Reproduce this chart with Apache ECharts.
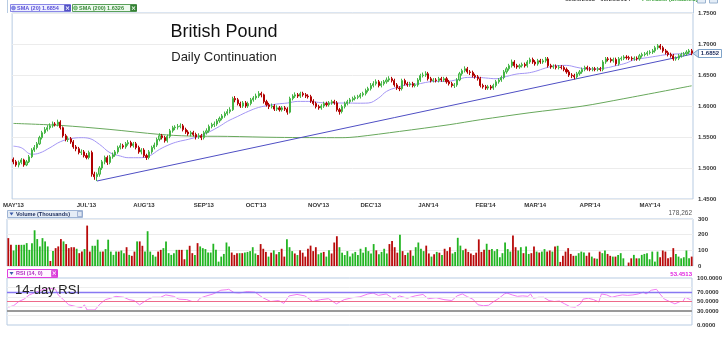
<!DOCTYPE html>
<html><head><meta charset="utf-8">
<script src="https://cdn.jsdelivr.net/npm/echarts/dist/echarts.min.js"></script>
<style>html,body{margin:0;padding:0;background:#fff}#c{width:725px;height:341px}</style>
</head><body><div id="c"></div>
<script>
// ---------- DATA ----------
const monthTickIdx = [0,28,50,73,93,117,137,159,181,200,221,244];
const monthLabels = ["MAY'13","JUL'13","AUG'13","SEP'13","OCT'13","NOV'13","DEC'13","JAN'14","FEB'14","MAR'14","APR'14","MAY'14"];

const opens = [
1.514,1.510,1.505,1.509,1.513,1.505,1.510,1.518,1.529,1.533,
1.539,1.549,1.557,1.562,1.565,1.568,1.571,1.570,1.574,1.565,
1.552,1.546,1.547,1.542,1.534,1.531,1.525,1.526,1.520,1.517,
1.525,1.490,1.486,1.490,1.500,1.510,1.517,1.509,1.518,1.521,
1.526,1.533,1.536,1.534,1.539,1.541,1.536,1.539,1.533,1.526,
1.529,1.520,1.517,1.526,1.533,1.537,1.546,1.552,1.549,1.544,
1.551,1.560,1.565,1.566,1.567,1.568,1.562,1.558,1.555,1.557,
1.554,1.550,1.552,1.549,1.557,1.560,1.567,1.570,1.571,1.576,
1.580,1.584,1.588,1.591,1.594,1.612,1.610,1.604,1.600,1.605,
1.600,1.604,1.610,1.613,1.616,1.620,1.618,1.607,1.602,1.599,
1.600,1.595,1.597,1.594,1.597,1.595,1.590,1.612,1.616,1.618,
1.616,1.620,1.618,1.616,1.615,1.608,1.604,1.599,1.597,1.600,
1.604,1.602,1.605,1.607,1.605,1.594,1.591,1.599,1.604,1.607,
1.610,1.612,1.614,1.615,1.618,1.620,1.625,1.628,1.633,1.636,
1.639,1.633,1.636,1.639,1.642,1.644,1.641,1.634,1.629,1.628,
1.641,1.636,1.634,1.636,1.633,1.634,1.642,1.649,1.650,1.652,
1.644,1.641,1.642,1.641,1.644,1.642,1.644,1.639,1.636,1.633,
1.634,1.642,1.652,1.657,1.660,1.655,1.654,1.649,1.647,1.644,
1.633,1.631,1.629,1.631,1.629,1.633,1.639,1.642,1.646,1.655,
1.660,1.665,1.671,1.665,1.663,1.665,1.667,1.665,1.671,1.675,
1.671,1.668,1.673,1.671,1.673,1.676,1.665,1.663,1.664,1.662,
1.663,1.662,1.659,1.655,1.650,1.649,1.647,1.652,1.655,1.659,
1.662,1.660,1.659,1.660,1.659,1.660,1.659,1.671,1.676,1.675,
1.673,1.675,1.668,1.676,1.677,1.679,1.678,1.677,1.676,1.677,
1.676,1.681,1.683,1.684,1.686,1.687,1.689,1.694,1.697,1.694,
1.689,1.686,1.683,1.681,1.676,1.677,1.681,1.683,1.684,1.687,1.689];

const closes = [
1.510,1.505,1.509,1.513,1.505,1.510,1.518,1.529,1.533,1.539,
1.549,1.557,1.562,1.565,1.568,1.571,1.570,1.574,1.565,1.552,
1.546,1.547,1.542,1.534,1.531,1.525,1.526,1.520,1.517,1.525,
1.490,1.486,1.490,1.500,1.510,1.517,1.509,1.518,1.521,1.526,
1.533,1.536,1.534,1.539,1.541,1.536,1.539,1.533,1.526,1.529,
1.520,1.517,1.526,1.533,1.537,1.546,1.552,1.549,1.544,1.551,
1.560,1.565,1.566,1.567,1.568,1.562,1.558,1.555,1.557,1.554,
1.550,1.552,1.549,1.557,1.560,1.567,1.570,1.571,1.576,1.580,
1.584,1.588,1.591,1.594,1.612,1.610,1.604,1.600,1.605,1.600,
1.604,1.610,1.613,1.616,1.620,1.618,1.607,1.602,1.599,1.600,
1.595,1.597,1.594,1.597,1.595,1.590,1.612,1.616,1.618,1.616,
1.620,1.618,1.616,1.615,1.608,1.604,1.599,1.597,1.600,1.604,
1.602,1.605,1.607,1.605,1.594,1.591,1.599,1.604,1.607,1.610,
1.612,1.614,1.615,1.618,1.620,1.625,1.628,1.633,1.636,1.639,
1.633,1.636,1.639,1.642,1.644,1.641,1.634,1.629,1.628,1.641,
1.636,1.634,1.636,1.633,1.634,1.642,1.649,1.650,1.652,1.644,
1.641,1.642,1.641,1.644,1.642,1.644,1.639,1.636,1.633,1.634,
1.642,1.652,1.657,1.660,1.655,1.654,1.649,1.647,1.644,1.633,
1.631,1.629,1.631,1.629,1.633,1.639,1.642,1.646,1.655,1.660,
1.665,1.671,1.665,1.663,1.665,1.667,1.665,1.671,1.675,1.671,
1.668,1.673,1.671,1.673,1.676,1.665,1.663,1.664,1.662,1.663,
1.662,1.659,1.655,1.650,1.649,1.647,1.652,1.655,1.659,1.662,
1.660,1.659,1.660,1.659,1.660,1.659,1.671,1.676,1.675,1.673,
1.675,1.668,1.676,1.677,1.679,1.678,1.677,1.676,1.677,1.676,
1.681,1.683,1.684,1.686,1.687,1.689,1.694,1.697,1.694,1.689,
1.686,1.683,1.681,1.676,1.677,1.681,1.683,1.684,1.687,1.689,1.6852];

const highs = [
1.517,1.513,1.512,1.516,1.515,1.513,1.521,1.532,1.537,1.542,
1.552,1.560,1.566,1.569,1.572,1.575,1.574,1.578,1.577,1.567,
1.555,1.551,1.550,1.545,1.537,1.534,1.530,1.529,1.524,1.528,
1.528,1.494,1.493,1.503,1.513,1.520,1.520,1.521,1.525,1.529,
1.536,1.540,1.539,1.542,1.545,1.544,1.542,1.542,1.536,1.532,
1.532,1.523,1.529,1.536,1.541,1.549,1.556,1.555,1.552,1.554,
1.563,1.568,1.569,1.571,1.572,1.571,1.565,1.561,1.560,1.560,
1.557,1.556,1.555,1.560,1.564,1.570,1.573,1.575,1.579,1.583,
1.587,1.591,1.595,1.598,1.615,1.616,1.613,1.607,1.608,1.608,
1.607,1.613,1.616,1.620,1.624,1.623,1.620,1.610,1.605,1.604,
1.603,1.601,1.600,1.600,1.600,1.598,1.615,1.619,1.622,1.621,
1.623,1.623,1.621,1.619,1.618,1.611,1.607,1.602,1.603,1.607,
1.607,1.608,1.610,1.610,1.608,1.597,1.602,1.607,1.610,1.613,
1.615,1.617,1.618,1.621,1.623,1.628,1.631,1.637,1.640,1.643,
1.642,1.640,1.642,1.646,1.648,1.647,1.644,1.637,1.632,1.644,
1.644,1.639,1.639,1.639,1.637,1.645,1.652,1.654,1.656,1.655,
1.647,1.645,1.645,1.647,1.647,1.647,1.647,1.642,1.639,1.637,
1.645,1.655,1.660,1.664,1.663,1.658,1.657,1.652,1.650,1.647,
1.636,1.634,1.634,1.634,1.636,1.642,1.645,1.649,1.658,1.663,
1.668,1.675,1.674,1.668,1.668,1.670,1.670,1.674,1.678,1.678,
1.674,1.676,1.676,1.676,1.679,1.679,1.668,1.667,1.667,1.666,
1.666,1.665,1.662,1.658,1.653,1.652,1.655,1.658,1.662,1.665,
1.665,1.663,1.663,1.663,1.663,1.663,1.674,1.679,1.679,1.678,
1.678,1.678,1.679,1.680,1.682,1.682,1.681,1.680,1.680,1.680,
1.684,1.686,1.687,1.689,1.690,1.692,1.697,1.700,1.700,1.697,
1.692,1.689,1.686,1.684,1.680,1.684,1.686,1.687,1.690,1.692,1.692];

const lows = [
1.506,1.502,1.501,1.506,1.502,1.503,1.508,1.516,1.526,1.530,
1.537,1.546,1.555,1.559,1.562,1.565,1.567,1.567,1.562,1.549,
1.543,1.542,1.539,1.531,1.527,1.522,1.521,1.517,1.514,1.514,
1.486,1.481,1.479,1.486,1.497,1.506,1.505,1.506,1.515,1.518,
1.523,1.530,1.531,1.531,1.536,1.533,1.533,1.530,1.523,1.522,
1.517,1.513,1.514,1.523,1.530,1.534,1.543,1.546,1.541,1.541,
1.548,1.557,1.561,1.562,1.564,1.559,1.555,1.552,1.551,1.551,
1.546,1.547,1.545,1.546,1.554,1.557,1.564,1.566,1.568,1.573,
1.577,1.581,1.585,1.588,1.592,1.606,1.601,1.597,1.597,1.597,
1.597,1.601,1.607,1.610,1.613,1.614,1.604,1.599,1.595,1.596,
1.592,1.592,1.591,1.591,1.592,1.586,1.588,1.609,1.613,1.613,
1.613,1.615,1.613,1.612,1.605,1.601,1.596,1.594,1.594,1.597,
1.599,1.599,1.602,1.602,1.591,1.586,1.588,1.596,1.601,1.604,
1.607,1.609,1.611,1.612,1.615,1.617,1.622,1.625,1.630,1.633,
1.630,1.630,1.633,1.636,1.639,1.638,1.631,1.626,1.624,1.625,
1.633,1.631,1.631,1.630,1.630,1.631,1.639,1.646,1.647,1.641,
1.638,1.638,1.638,1.638,1.639,1.639,1.636,1.633,1.630,1.629,
1.631,1.640,1.649,1.654,1.652,1.650,1.646,1.644,1.641,1.630,
1.628,1.626,1.626,1.626,1.626,1.630,1.636,1.639,1.643,1.652,
1.657,1.662,1.662,1.660,1.660,1.662,1.662,1.662,1.668,1.668,
1.665,1.665,1.668,1.668,1.670,1.662,1.660,1.660,1.659,1.659,
1.659,1.656,1.652,1.647,1.645,1.643,1.644,1.649,1.652,1.656,
1.657,1.656,1.656,1.656,1.656,1.656,1.656,1.668,1.672,1.670,
1.670,1.665,1.665,1.673,1.674,1.675,1.674,1.673,1.673,1.673,
1.673,1.678,1.680,1.681,1.683,1.684,1.686,1.691,1.691,1.686,
1.683,1.680,1.678,1.673,1.673,1.674,1.678,1.680,1.681,1.684,1.682];

const volumes = [
178,135,99,135,135,135,135,146,103,146,
228,172,125,178,157,125,32,95,114,125,
172,157,140,114,120,120,110,82,92,108,
258,92,129,129,168,92,92,108,168,92,
71,92,92,99,82,120,71,65,92,157,
157,129,92,222,92,71,60,92,103,114,
157,82,71,82,103,103,103,43,103,129,
82,71,146,125,114,108,86,86,142,103,
28,60,77,150,125,86,71,82,82,82,
86,90,95,120,80,70,140,110,90,60,
85,100,75,90,110,60,170,120,95,80,
70,100,85,60,110,130,95,120,75,85,
90,60,100,80,150,190,120,85,70,95,
60,80,90,70,110,85,120,95,80,140,
100,75,90,110,80,140,160,120,85,200,
95,70,85,100,65,120,150,110,95,130,
80,60,75,90,85,70,110,95,120,80,
90,180,130,100,110,90,80,70,85,170,
90,103,142,103,108,95,108,56,82,150,
108,92,194,120,99,120,82,125,77,82,
125,92,86,92,108,92,99,92,125,129,
26,65,92,114,77,65,65,82,92,86,
65,86,60,49,47,92,82,99,77,65,
60,60,71,82,49,0,22,49,71,49,
49,71,77,82,43,92,28,92,56,99,
92,49,56,114,77,60,49,56,99,49,60];

const sma20 = [[0,1.5352],[3,1.5327],[7,1.5222],[10,1.5241],[14,1.5327],[18,1.5424],[22,1.5473],[26,1.5489],[29,1.5478],[33,1.5381],[37,1.5247],[41,1.5193],[44,1.5166],[48,1.5166],[52,1.5193],[56,1.5300],[60,1.5381],[63,1.5424],[67,1.5462],[71,1.5510],[75,1.5581],[79,1.5672],[82,1.5752],[86,1.5833],[90,1.5913],[94,1.5977],[98,1.6010],[101,1.6032],[105,1.6048],[109,1.6074],[113,1.6074],[117,1.6058],[120,1.6048],[124,1.6048],[128,1.6048],[132,1.6045],[136,1.6048],[140,1.6129],[143,1.6235],[147,1.6300],[151,1.6344],[155,1.6355],[159,1.6387],[162,1.6397],[166,1.6397],[170,1.6424],[174,1.6461],[178,1.6461],[181,1.6452],[185,1.6440],[189,1.6477],[193,1.6516],[197,1.6532],[200,1.6558],[204,1.6613],[208,1.6650],[212,1.6655],[216,1.6623],[219,1.6602],[223,1.6597],[227,1.6613],[231,1.6650],[235,1.6694],[238,1.6747],[242,1.6774],[246,1.6800],[250,1.6827],[254,1.6839],[257,1.6844],[260,1.6854]];

const sma200 = [[0,1.5719],[18,1.5687],[37,1.5622],[56,1.5542],[67,1.5516],[82,1.5510],[101,1.5494],[126,1.5489],[132,1.5505],[148,1.5590],[167,1.5698],[179,1.5779],[198,1.5892],[218,1.5997],[234,1.6118],[260,1.6326]];

const trendLine = [[32,1.479],[260,1.6835]];

const rsi = [[0,38],[2,41],[4,50],[6,55],[8,64],[11,71],[13,75],[16,78],[18,76],[19,64],[21,54],[23,43],[26,39],[28,37],[29,43],[30,32],[33,32],[35,45],[37,54],[39,57],[41,61],[44,59],[46,54],[48,52],[50,43],[53,54],[55,59],[58,59],[60,64],[63,61],[65,55],[68,54],[70,50],[72,50],[73,57],[75,61],[78,66],[81,74],[83,75],[84,76],[86,69],[88,68],[91,71],[94,70],[97,58],[100,50],[103,52],[105,46],[107,62],[110,65],[113,62],[116,50],[119,54],[122,56],[125,45],[128,54],[131,58],[134,60],[137,66],[139,68],[141,63],[144,66],[147,55],[149,62],[152,57],[155,62],[158,65],[160,56],[163,58],[166,54],[169,52],[171,62],[173,66],[175,60],[177,55],[179,43],[181,41],[183,42],[185,50],[187,57],[189,66],[190,68],[192,64],[194,61],[196,62],[198,61],[199,66],[200,57],[202,59],[204,59],[206,52],[208,50],[210,51],[212,45],[214,39],[216,38],[218,45],[219,55],[221,57],[223,54],[225,49],[226,66],[228,64],[230,59],[232,62],[234,64],[236,63],[238,64],[240,66],[242,70],[243,66],[245,74],[247,76],[248,68],[250,55],[252,50],[254,45],[256,50],[257,50],[258,59],[260,53.4513]];

const rsiLabelValues = [0,30,50,70,100];

// ---------- CHART ----------
const dayIdx = closes.map((_, i) => String(i));
const candles = closes.map((c, i) => [opens[i], c, lows[i], highs[i]]);
const UP = '#9ee49e', UPB = '#44b444', DN = '#cc0000', DNB = '#b00000';
const lblFont = {fontFamily: 'Liberation Sans', fontSize: 6, fontWeight: 'bold', color: '#333'};
const BORDER = '#b7cbe2';

const chart = echarts.init(document.getElementById('c'), null, {renderer: 'canvas'});

const gridBase = {left: 7, right: 32, show: true, borderColor: BORDER, borderWidth: 1, backgroundColor: 'transparent'};
const hiddenX = (gi) => ({type: 'category', gridIndex: gi, data: dayIdx, boundaryGap: true,
  axisLine: {show: false}, axisTick: {show: false}, axisLabel: {show: false}, splitLine: {show: false}});

const option = {
  animation: false,
  grid: [
    Object.assign({top: 13, height: 186}, gridBase),
    Object.assign({top: 219, height: 47}, gridBase),
    Object.assign({top: 278, height: 47}, gridBase)
  ],
  xAxis: [
    {type: 'category', gridIndex: 0, data: dayIdx, boundaryGap: true,
     axisLine: {show: false}, axisTick: {show: false}, splitLine: {show: false},
     axisLabel: Object.assign({
       interval: (idx) => monthTickIdx.indexOf(idx) >= 0,
       formatter: (v, idx) => monthLabels[monthTickIdx.indexOf(idx)] || '',
       margin: 3
     }, lblFont)},
    hiddenX(1), hiddenX(2)
  ],
  yAxis: [
    {type: 'value', gridIndex: 0, position: 'right', min: 1.45, max: 1.75, interval: 0.05,
     axisLine: {show: false}, axisTick: {show: false},
     splitLine: {lineStyle: {color: '#ececec', width: 1}},
     axisLabel: Object.assign({margin: 5, formatter: (v) => v.toFixed(4)}, lblFont)},
    {type: 'value', gridIndex: 1, position: 'right', min: 0, max: 300, interval: 100,
     axisLine: {show: false}, axisTick: {show: false},
     splitLine: {lineStyle: {color: '#ececec'}},
     axisLabel: Object.assign({margin: 5}, lblFont)},
    {type: 'value', gridIndex: 2, position: 'right', min: 0, max: 100, interval: 10,
     axisLine: {show: false}, axisTick: {show: false}, splitLine: {show: false},
     axisLabel: Object.assign({margin: 5, formatter: (v) => rsiLabelValues.indexOf(Math.round(v)) >= 0 ? v.toFixed(4) : ''}, lblFont)}
  ],
  series: [
    {type: 'line', xAxisIndex: 0, yAxisIndex: 0, data: sma200, showSymbol: false, smooth: 0.3,
     lineStyle: {color: '#68a85c', width: 1}, z: 2, silent: true},
    {type: 'line', xAxisIndex: 0, yAxisIndex: 0, data: trendLine, showSymbol: false,
     lineStyle: {color: '#4f4fc4', width: 1}, z: 2, silent: true},
    {type: 'line', xAxisIndex: 0, yAxisIndex: 0, data: sma20, showSymbol: false, smooth: 0.4,
     lineStyle: {color: '#a395f4', width: 1}, z: 2, silent: true},
    {type: 'candlestick', xAxisIndex: 0, yAxisIndex: 0, data: candles, barWidth: 1.6, z: 3,
     itemStyle: {color: UP, borderColor: UPB, color0: DN, borderColor0: DNB, borderWidth: 1}},
    {type: 'bar', xAxisIndex: 1, yAxisIndex: 1, data: volumes, barWidth: 1.8,
     itemStyle: {color: (p) => closes[p.dataIndex] >= opens[p.dataIndex] ? '#22b522' : '#b80a0a'}},
    {type: 'line', xAxisIndex: 2, yAxisIndex: 2, data: rsi, showSymbol: false,
     lineStyle: {color: '#f27cf2', width: 1}, z: 4,
     markLine: {silent: true, symbol: 'none', label: {show: false}, animation: false,
       data: [
         {yAxis: 20, lineStyle: {color: '#eeeeee', width: 1, type: 'solid'}},
         {yAxis: 40, lineStyle: {color: '#eeeeee', width: 1, type: 'solid'}},
         {yAxis: 60, lineStyle: {color: '#eeeeee', width: 1, type: 'solid'}},
         {yAxis: 80, lineStyle: {color: '#eeeeee', width: 1, type: 'solid'}},
         {yAxis: 70, lineStyle: {color: '#8878f2', width: 1.3, type: 'solid'}},
         {yAxis: 50, lineStyle: {color: '#ee6a8a', width: 1.2, type: 'solid'}},
         {yAxis: 30, lineStyle: {color: '#9a9a9a', width: 2, type: 'solid'}}
       ]}}
  ],
  graphic: [
    // panel border continuation above the 1.75 line
    {type: 'line', z: 1, shape: {x1: 7.5, y1: 0, x2: 7.5, y2: 13}, style: {stroke: BORDER, lineWidth: 1}},
    {type: 'line', z: 1, shape: {x1: 693.5, y1: 0, x2: 693.5, y2: 13}, style: {stroke: BORDER, lineWidth: 1}},
    // titles
    {type: 'text', x: 224, y: 32.5, z: 10, style: {text: 'British Pound', font: '18px "Liberation Sans"', fill: '#111', align: 'center', verticalAlign: 'middle'}},
    {type: 'text', x: 224, y: 57.5, z: 10, style: {text: 'Daily Continuation', font: '13px "Liberation Sans"', fill: '#222', align: 'center', verticalAlign: 'middle'}},
    {type: 'text', x: 15, y: 290.5, z: 10, style: {text: '14-day RSI', font: '13px "Liberation Sans"', fill: '#222', align: 'left', verticalAlign: 'middle'}},
    // SMA legend boxes
    {type: 'rect', z: 10, shape: {x: 10.5, y: 4.5, width: 60, height: 7}, style: {fill: '#eef0ff', stroke: '#8a86e6', lineWidth: 1}},
    {type: 'circle', z: 11, shape: {cx: 13.5, cy: 8, r: 2}, style: {fill: '#8a8eea', stroke: '#5a5ad0', lineWidth: 0.5}},
    {type: 'text', z: 11, x: 17, y: 8.2, style: {text: 'SMA (20) 1.6854', font: 'bold 5.5px "Liberation Sans"', fill: '#5a50d8', verticalAlign: 'middle'}},
    {type: 'rect', z: 11, shape: {x: 64.5, y: 5, width: 6, height: 6}, style: {fill: '#5656cc', stroke: '#4040b0', lineWidth: 0.5}},
    {type: 'text', z: 12, x: 67.5, y: 8.2, style: {text: '×', font: 'bold 6px "DejaVu Sans"', fill: '#fff', align: 'center', verticalAlign: 'middle'}},
    {type: 'rect', z: 10, shape: {x: 72.5, y: 4.5, width: 64, height: 7}, style: {fill: '#eefaee', stroke: '#5aa05a', lineWidth: 1}},
    {type: 'circle', z: 11, shape: {cx: 75.5, cy: 8, r: 2}, style: {fill: '#8fcf8f', stroke: '#3a8a3a', lineWidth: 0.5}},
    {type: 'text', z: 11, x: 79, y: 8.2, style: {text: 'SMA (200) 1.6326', font: 'bold 5.5px "Liberation Sans"', fill: '#3a8a3a', verticalAlign: 'middle'}},
    {type: 'rect', z: 11, shape: {x: 130.5, y: 5, width: 6, height: 6}, style: {fill: '#3a8a3a', stroke: '#2a6a2a', lineWidth: 0.5}},
    {type: 'text', z: 12, x: 133.5, y: 8.2, style: {text: '×', font: 'bold 6px "DejaVu Sans"', fill: '#fff', align: 'center', verticalAlign: 'middle'}},
    // top-right partial header
    {type: 'text', z: 10, x: 565, y: -1, style: {text: '05/20/2013 - 05/20/2014', font: 'bold 6px "Liberation Sans"', fill: '#444', verticalAlign: 'middle'}},
    {type: 'text', z: 10, x: 642, y: -1, style: {text: 'Forecast (Disabled)', font: 'bold 6px "Liberation Sans"', fill: '#3aa03a', verticalAlign: 'middle'}},
    {type: 'rect', z: 10, shape: {x: 697.5, y: -4, width: 8, height: 7}, style: {fill: '#e4edf7', stroke: '#9ab3cf', lineWidth: 1}},
    {type: 'rect', z: 10, shape: {x: 709.5, y: -4, width: 8, height: 7}, style: {fill: '#e4edf7', stroke: '#9ab3cf', lineWidth: 1}},
    // last price tag
    {type: 'polygon', z: 10, shape: {points: [[693, 53.5], [698.5, 49.5], [698.5, 57.5]]}, style: {fill: '#c9dbef', stroke: '#7fa3c9', lineWidth: 1}},
    {type: 'rect', z: 10, shape: {x: 698.5, y: 49.5, width: 23, height: 8}, style: {fill: '#fff', stroke: '#7fa3c9', lineWidth: 1}},
    {type: 'text', z: 11, x: 710, y: 53.7, style: {text: '1.6852', font: 'bold 6px "Liberation Sans"', fill: '#1c2c5c', align: 'center', verticalAlign: 'middle'}},
    // volume header
    {type: 'rect', z: 10, shape: {x: 7.5, y: 210.5, width: 75, height: 7}, style: {fill: '#e6edf6', stroke: '#9fb5d5', lineWidth: 1}},
    {type: 'polygon', z: 11, shape: {points: [[9.5, 212.5], [13.5, 212.5], [11.5, 215.5]]}, style: {fill: '#3a5aa8'}},
    {type: 'text', z: 11, x: 16, y: 214.2, style: {text: 'Volume (Thousands)', font: 'bold 5.5px "Liberation Sans"', fill: '#1a2a5a', verticalAlign: 'middle'}},
    {type: 'rect', z: 11, shape: {x: 77.5, y: 211.5, width: 4.5, height: 5}, style: {fill: '#dfe7f2', stroke: '#7a90c0', lineWidth: 0.6}},
    {type: 'text', z: 10, x: 692, y: 213.5, style: {text: '178,262', font: '6.5px "Liberation Sans"', fill: '#555', align: 'right', verticalAlign: 'middle'}},
    // RSI header
    {type: 'rect', z: 10, shape: {x: 7.5, y: 269.5, width: 50, height: 8}, style: {fill: '#fff6ff', stroke: '#e040e0', lineWidth: 1}},
    {type: 'polygon', z: 11, shape: {points: [[9.5, 272], [13.5, 272], [11.5, 275]]}, style: {fill: '#3a5aa8'}},
    {type: 'text', z: 11, x: 16, y: 273.7, style: {text: 'RSI (14, 0)', font: 'bold 5.5px "Liberation Sans"', fill: '#b030c0', verticalAlign: 'middle'}},
    {type: 'rect', z: 11, shape: {x: 51.5, y: 270.5, width: 5.5, height: 6}, style: {fill: '#e040e0', stroke: '#c020c0', lineWidth: 0.5}},
    {type: 'text', z: 12, x: 54.3, y: 273.7, style: {text: '×', font: 'bold 6px "DejaVu Sans"', fill: '#fff', align: 'center', verticalAlign: 'middle'}},
    {type: 'text', z: 10, x: 692, y: 274, style: {text: '53.4513', font: 'bold 6px "Liberation Sans"', fill: '#e020e0', align: 'right', verticalAlign: 'middle'}}
  ]
};
chart.setOption(option);
</script>
</body></html>
